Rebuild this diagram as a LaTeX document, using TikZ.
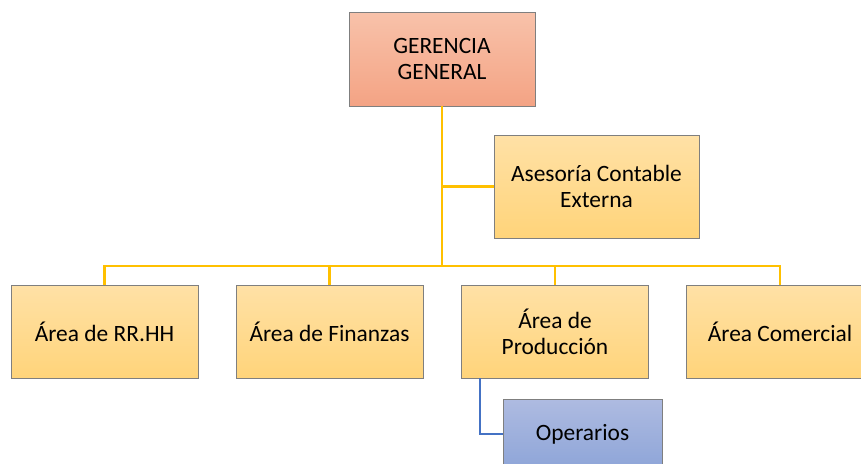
\documentclass[tikz,border=0pt]{standalone}
\usepackage{fontspec}
\setmainfont{Carlito}
\usepackage{tikz}
\usetikzlibrary{positioning}

\definecolor{salmontop}{HTML}{F8C2AA}
\definecolor{salmonbot}{HTML}{F4A384}
\definecolor{goldtop}{HTML}{FFE1A6}
\definecolor{goldbot}{HTML}{FFD47A}
\definecolor{bluetop}{HTML}{AEBBE1}
\definecolor{bluebot}{HTML}{8EA5D8}
\definecolor{linegold}{HTML}{FFC000}
\definecolor{lineblue}{HTML}{4472C4}
\definecolor{edgegray}{HTML}{7F7F7F}

\tikzset{
    orgbox/.style={draw=edgegray, line width=0.8pt, align=center, inner sep=0pt,
        font=\fontsize{23.4}{26}\selectfont},
    headbox/.style={orgbox, top color=salmontop, bottom color=salmonbot},
    areabox/.style={orgbox, top color=goldtop, bottom color=goldbot,
        minimum width=187, minimum height=93},
    subbox/.style={orgbox, top color=bluetop, bottom color=bluebot},
    goldline/.style={draw=linegold, line width=2.5pt},
    blueline/.style={draw=lineblue, line width=2.5pt}
}

\begin{document}
\begin{tikzpicture}[x=1pt, y=-1pt]
    \useasboundingbox (0,0) rectangle (861,463);
    \clip (0,0) rectangle (861,463);

    % Top
    \node[headbox, minimum width=186, minimum height=94] (gerencia) at (442,59) {GERENCIA\\GENERAL};
    \node[areabox, minimum width=205, minimum height=103] (asesoria) at (596.5,186.5) {Asesoría Contable\\Externa};

    % Areas
    \node[areabox] (rrhh) at (104.5,331.5) {Área de RR.HH};
    \node[areabox] (finanzas) at (329.5,331.5) {Área de Finanzas};
    \node[areabox] (produccion) at (555,331.5) {Área de\\Producción};
    \node[areabox] (comercial) at (780,331.5) {Área Comercial};

    % Operarios
    \node[subbox, minimum width=159, minimum height=70] (operarios) at (582.5,434) {Operarios};

    % Connectors
    \coordinate (bus) at (442,266);
    \draw[goldline] (gerencia.south) -- (bus);
    \draw[goldline] (gerencia.south |- asesoria.west) -- (asesoria.west);
    \foreach \n in {rrhh, finanzas, produccion, comercial}
        \draw[goldline] (\n.north) |- (bus);
    \draw[blueline] ([xshift=19]produccion.south west) |- (operarios.west);
\end{tikzpicture}
\end{document}
